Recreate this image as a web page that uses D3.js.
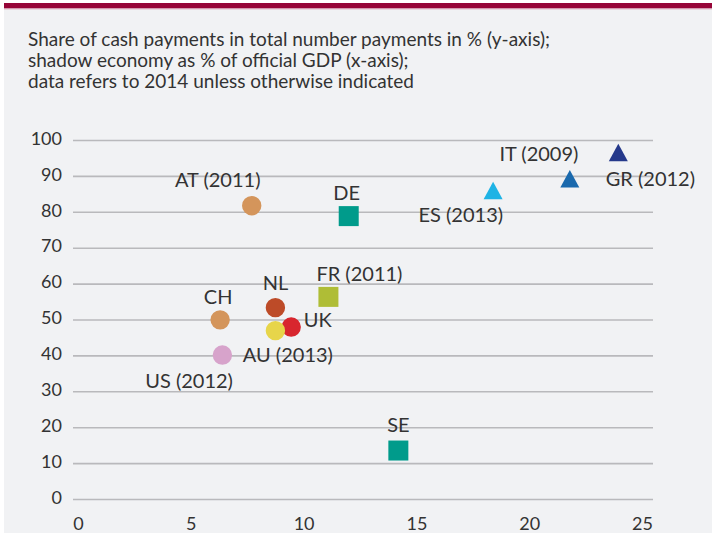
<!DOCTYPE html>
<html>
<head>
<meta charset="utf-8">
<script src="https://cdn.jsdelivr.net/npm/d3@7"></script>
<style>
  html, body { margin: 0; padding: 0; background: #ffffff; }
  svg { display: block; }
  text { font-family: Lato, "Noto Sans", sans-serif; fill: #333333; }
</style>
</head>
<body>
<svg id="chart" width="712" height="533"></svg>
<script>
// ---- data ----
const countries   = ["AT (2011)", "DE", "FR (2011)", "CH", "NL", "UK", "AU (2013)", "US (2012)", "SE", "ES (2013)", "IT (2009)", "GR (2012)"];
const shadowGDP   = [7.7, 12.0, 11.1, 6.3, 8.75, 9.45, 8.75, 6.4, 14.2, 18.4, 21.8, 23.95];
const cashShare   = [81.7, 78.8, 56.3, 49.9, 53.3, 47.9, 46.9, 40.1, 13.5, 85.9, 89.2, 96.5];
const markerShape = ["circle", "square", "square", "circle", "circle", "circle", "circle", "circle", "square", "triangle", "triangle", "triangle"];
const xTicks = [0, 5, 10, 15, 20, 25];
const yTicks = [0, 10, 20, 30, 40, 50, 60, 70, 80, 90, 100];
const titleLines = [
  "Share of cash payments in total number payments in % (y-axis);",
  "shadow economy as % of official GDP (x-axis);",
  "data refers to 2014 unless otherwise indicated"
];

// ---- styles / layout ----
const colors = ["#d4955b", "#009b8b", "#afbd36", "#d4955b", "#bd4b28", "#d8262e", "#e7d54a", "#d7a3cb", "#009b8b", "#1eb3e5", "#1a69ad", "#25398b"];
// label offsets relative to marker: [dx, dy, anchor]
const labelPos = [
  [-34, -19, "middle"], [-2, -16, "middle"], [-12, -16, "start"], [-2, -16, "middle"],
  [0, -17.5, "middle"], [12.5, -0.5, "start"], [-32.6, 31, "start"], [10.6, 33.3, "end"],
  [0, -19, "middle"], [10, 31, "end"], [8.6, -17.7, "end"], [-12.6, 33, "start"]
];
const order = [0, 1, 2, 3, 4, 5, 6, 7, 8, 9, 10, 11];

const W = 712, H = 533;
const svg = d3.select("#chart");

// outer background
svg.append("rect").attr("x", 0).attr("y", 0).attr("width", W).attr("height", H).attr("fill", "#ffffff");
svg.append("rect").attr("x", 4).attr("y", 3).attr("width", W - 4).attr("height", H - 3).attr("fill", "#f1f2f4");
svg.append("rect").attr("x", 4).attr("y", 3).attr("width", W - 4).attr("height", 5.5).attr("fill", "#960538");
svg.append("rect").attr("x", 4).attr("y", 8.5).attr("width", W - 4).attr("height", 1).attr("fill", "#e2b7c6");

// title
svg.append("g").selectAll("text").data(titleLines).join("text")
  .attr("x", 28).attr("y", (d, i) => 45.7 + i * 21.3)
  .style("font-size", "19px")
  .text(d => d);

// scales
const x = d3.scaleLinear().domain([0, 25]).range([78, 642]);
const y = d3.scaleLinear().domain([0, 100]).range([499, 140]);
const gridLeft = 73, gridRight = 653;

// y axis with gridlines
const yAxis = svg.append("g")
  .attr("transform", `translate(${gridLeft},0)`)
  .call(d3.axisLeft(y).tickValues(yTicks).tickSize(-(gridRight - gridLeft)).tickPadding(11).tickFormat(d3.format("d")));
yAxis.select(".domain").remove();
yAxis.selectAll(".tick line").attr("stroke", "#b9b9bc").attr("stroke-width", 1.6);
yAxis.selectAll(".tick text")
  .attr("dy", "0.32em").attr("y", -1.5)
  .style("font-size", "18px").style("font-family", "Lato, 'Noto Sans', sans-serif").attr("fill", "#333333");

// x axis labels
const xAxis = svg.append("g")
  .attr("transform", `translate(0,${y(0)})`)
  .call(d3.axisBottom(x).tickValues(xTicks).tickSize(0).tickPadding(0).tickFormat(d3.format("d")));
xAxis.select(".domain").remove();
xAxis.selectAll(".tick text")
  .attr("y", 31).attr("dy", 0)
  .style("font-size", "18px").style("font-family", "Lato, 'Noto Sans', sans-serif").attr("fill", "#333333");

// custom triangle symbol centred on its bounding box
const triangle = {
  draw(ctx, size) {
    const w = 19, h = 17.5;
    ctx.moveTo(0, -h / 2);
    ctx.lineTo(w / 2, h / 2);
    ctx.lineTo(-w / 2, h / 2);
    ctx.closePath();
  }
};
const shapeTypes = { circle: d3.symbolCircle, square: d3.symbolSquare, triangle: triangle };
const shapeSizes = { circle: Math.PI * 9.7 * 9.7, square: 20 * 20, triangle: 1 };

svg.append("g").selectAll("path").data(order).join("path")
  .attr("transform", i => `translate(${x(shadowGDP[i])},${y(cashShare[i])})`)
  .attr("d", i => d3.symbol().type(shapeTypes[markerShape[i]]).size(shapeSizes[markerShape[i]])())
  .attr("fill", i => colors[i]);

// labels
svg.append("g").selectAll("text").data(order).join("text")
  .attr("x", i => x(shadowGDP[i]) + labelPos[i][0])
  .attr("y", i => y(cashShare[i]) + labelPos[i][1])
  .attr("text-anchor", i => labelPos[i][2])
  .style("font-size", "20px")
  .text(i => countries[i]);
</script>
</body>
</html>
